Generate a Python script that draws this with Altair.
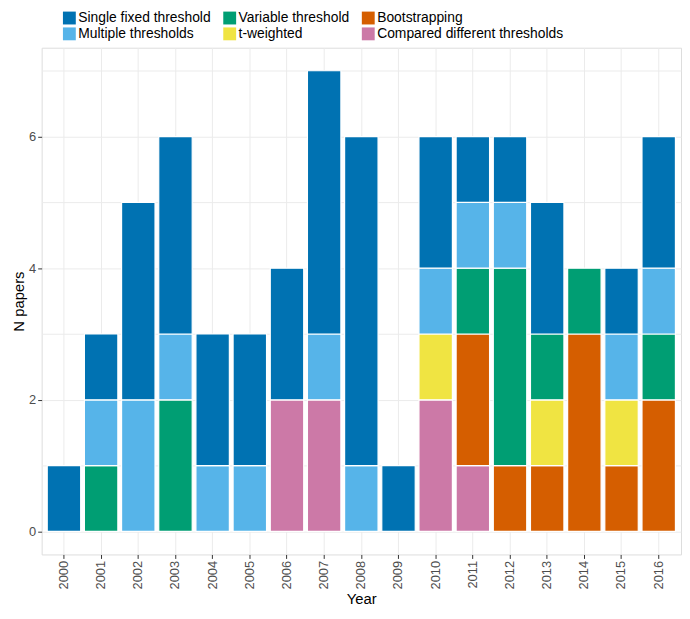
import altair as alt
import pandas as pd

years = [str(y) for y in range(2000, 2017)]

# stacking order from bottom to top
categories = [
    "Compared different thresholds",
    "Bootstrapping",
    "t-weighted",
    "Variable threshold",
    "Multiple thresholds",
    "Single fixed threshold",
]

single_fixed = [1, 1, 3, 3, 2, 2, 2, 4, 5, 1, 2, 1, 1, 2, 0, 1, 2]
multiple     = [0, 1, 2, 1, 1, 1, 0, 1, 1, 0, 1, 1, 1, 0, 0, 1, 1]
variable     = [0, 1, 0, 2, 0, 0, 0, 0, 0, 0, 0, 1, 3, 1, 1, 0, 1]
t_weighted   = [0, 0, 0, 0, 0, 0, 0, 0, 0, 0, 1, 0, 0, 1, 0, 1, 0]
bootstrap    = [0, 0, 0, 0, 0, 0, 0, 0, 0, 0, 0, 2, 1, 1, 3, 1, 2]
compared     = [0, 0, 0, 0, 0, 0, 2, 2, 0, 0, 2, 1, 0, 0, 0, 0, 0]

series = {
    "Compared different thresholds": compared,
    "Bootstrapping": bootstrap,
    "t-weighted": t_weighted,
    "Variable threshold": variable,
    "Multiple thresholds": multiple,
    "Single fixed threshold": single_fixed,
}

colors = {
    "Single fixed threshold": "#0072B2",
    "Multiple thresholds": "#56B4E9",
    "Variable threshold": "#009E73",
    "t-weighted": "#F0E442",
    "Bootstrapping": "#D55E00",
    "Compared different thresholds": "#CC79A7",
}

# legend order (filled column by column, 2 rows x 3 columns)
legend_order = [
    "Single fixed threshold",
    "Multiple thresholds",
    "Variable threshold",
    "t-weighted",
    "Bootstrapping",
    "Compared different thresholds",
]

rows = []
for ci, cat in enumerate(categories):
    for y, v in zip(years, series[cat]):
        if v > 0:
            rows.append({"Year": y, "Method": cat, "N": v, "ord": ci})
df = pd.DataFrame(rows)

FONT = "Liberation Sans"

chart = (
    alt.Chart(df)
    .mark_bar(stroke="white", strokeWidth=1.2)
    .encode(
        x=alt.X(
            "Year:N",
            sort=years,
            scale=alt.Scale(domain=years, paddingInner=0.1, paddingOuter=0.15),
            axis=alt.Axis(
                title="Year",
                labelAngle=270,
                labelFontSize=13,
                labelColor="#4D4D4D",
                labelFont=FONT,
                titleFont=FONT,
                titleFontSize=15,
                titleFontWeight="normal",
                titleColor="black",
                titlePadding=3,
                tickSize=4,
                tickColor="#333333",
                labelPadding=2,
                domain=False,
                grid=True,
                gridColor="#EBEBEB",
                bandPosition=0.5,
            ),
        ),
        y=alt.Y(
            "N:Q",
            stack="zero",
            scale=alt.Scale(domain=[-0.35, 7.35], nice=False, zero=False),
            axis=alt.Axis(
                title="N papers",
                values=[0, 1, 2, 3, 4, 5, 6, 7],
                labelExpr="datum.value % 2 === 0 ? datum.label : ''",
                tickOpacity={"condition": {"test": "datum.value % 2 === 1", "value": 0}, "value": 1},
                labelFontSize=13,
                labelColor="#4D4D4D",
                labelFont=FONT,
                titleFont=FONT,
                titleFontSize=15,
                titleFontWeight="normal",
                titleColor="black",
                titlePadding=2,
                tickSize=4,
                tickColor="#333333",
                labelPadding=2,
                domain=False,
                grid=True,
                gridColor="#EBEBEB",
            ),
        ),
        color=alt.Color(
            "Method:N",
            scale=alt.Scale(domain=legend_order, range=[colors[c] for c in legend_order]),
            legend=alt.Legend(
                title=None,
                orient="none",
                legendX=21,
                legendY=-37,
                columns=3,
                symbolType="square",
                symbolSize=169,
                symbolStrokeWidth=0,
                symbolOpacity=1,
                labelFontSize=14,
                labelFont=FONT,
                labelColor="black",
                labelLimit=400,
                labelOffset=2,
                rowPadding=2,
                columnPadding=12,
            ),
        ),
        order=alt.Order("ord:Q", sort="ascending"),
    )
    .properties(
        width=646,
        height=512,
        autosize=alt.AutoSizeParams(type="none"),
        padding={"left": 34, "top": 37, "right": 1, "bottom": 54},
    )
    .configure_view(stroke="#6E6E6E", strokeWidth=1)
    .configure(background="white")
)

chart.save("out.html", embed_options={"renderer": "svg", "actions": False})
